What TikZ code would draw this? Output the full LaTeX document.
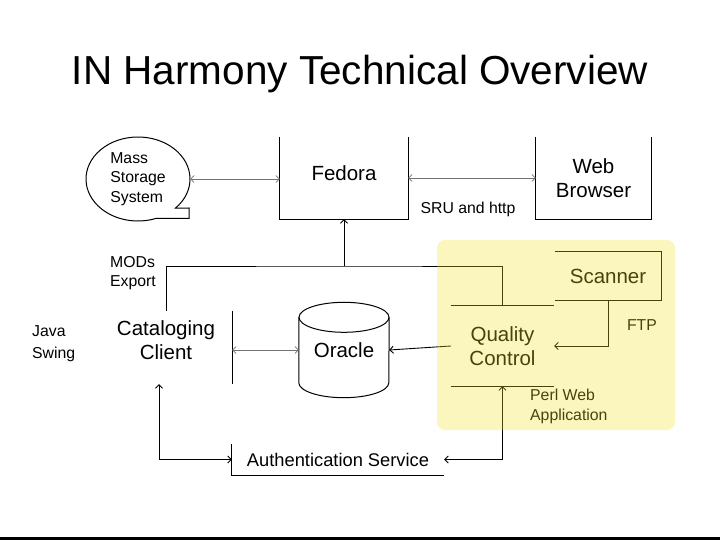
\documentclass[tikz,border=0pt]{standalone}
\usepackage{fontspec}
\setmainfont{Liberation Sans}
\usepackage{xcolor}
\usetikzlibrary{shapes.geometric, arrows.meta}

\definecolor{hlyellow}{RGB}{238,225,38}

\begin{document}
\begin{tikzpicture}[x=1pt, y=-1pt,
        big/.style={font=\fontsize{20.5}{24}\selectfont, align=center, inner sep=0},
        small/.style={font=\fontsize{15.8}{19.5}\selectfont, align=left, inner sep=0},
        line/.style={line width=1pt},
        arrow/.style={->, >={Straight Barb[length=3.5pt, width=7pt]}, line width=0.9pt},
        darrow/.style={<->, >={Straight Barb[length=3.5pt, width=7pt]}, line width=0.6pt, draw=black!55}
    ]
    \useasboundingbox (0,0) rectangle (720,540);

    % Title
    \node[font=\fontsize{40.5}{44}\selectfont] (title) at (360,74) {IN Harmony Technical Overview};

    % Top row
    \node[small, ellipse, minimum width=104pt, minimum height=84pt] (mss) at (138,179) {Mass\\Storage\\System};
    \node[big, minimum width=128pt, minimum height=82pt, text depth=10pt] (fedora) at (344,178) {Fedora};
    \node[big, minimum width=115pt, minimum height=82pt] (web) at (593.5,178) {Web\\Browser};
    \node[small] (sru) at (468,209) {SRU and http};

    % Middle row
    \node[big, minimum width=132pt, minimum height=73pt, text depth=14pt] (cat) at (166,347.5) {Cataloging\\Client};
    \node[big, minimum width=90pt, minimum height=95pt] (oracle) at (344,350) {Oracle};
    \node[big, minimum width=103pt, minimum height=80pt] (qc) at (502.5,346) {Quality\\Control};
    \node[big, minimum width=106pt, minimum height=48pt] (scan) at (608,276) {Scanner};
    \coordinate (mods) at (344,266);

    % Labels
    \node[small, anchor=north west] (modslabel) at (110,256) {MODs\\Export};
    \node[small, anchor=north west, font=\fontsize{15.8}{22}\selectfont] (java) at (32,325) {Java\\Swing};
    \node[small] (ftp) at (642,325) {FTP};
    \node[small, anchor=north west] (perl) at (530,389) {Perl Web\\Application};

    % Bottom row
    \node[font=\fontsize{18.3}{20}\selectfont, minimum width=212pt, minimum height=31pt, inner sep=0] (auth) at (338,459.5) {Authentication Service};

    % Box edges
    \draw[line, shift={(mss.center)}] (44:52 and 42) arc[start angle=44, end angle=-290, x radius=52, y radius=42] -| (51,29) -- cycle;
    \draw[line] (fedora.north west) |- (fedora.south east) -- (fedora.north east);
    \draw[line] (web.north west) |- (web.south east) -- (web.north east);
    \draw[line] (cat.north east) -- (cat.south east);
    \draw[line] ([yshift=-15pt]oracle.north west) -- ([yshift=15pt]oracle.south west)
        arc[start angle=180, end angle=0, x radius=45, y radius=15] -- ([yshift=-15pt]oracle.north east);
    \draw[line] ([yshift=-15pt]oracle.north) ellipse[x radius=45, y radius=15];
    \draw[line] (qc.north west) -- (qc.north east);
    \draw[line] (qc.south west) -- (qc.south east);
    \draw[line] (scan.north west) -- (scan.north east) |- (scan.south west);
    \draw[line] (auth.north west) |- (auth.south east);

    % Arrows
    \draw[darrow] (mss.east) -- (mss.east -| fedora.west);
    \draw[darrow] (fedora.east) -- (web.west);
    \draw[line] (cat.north) |- (mods) -| (qc.north);
    \draw[arrow] (mods) -- (fedora.south);
    \draw[darrow] (oracle.west -| cat.east) -- (oracle.west);
    \draw[arrow] (qc.west) -- (oracle.east);
    \draw[arrow] (scan.south) |- (qc.east);
    \draw[arrow, <->] ([xshift=-7pt]cat.south) |- (auth.west);
    \draw[arrow, <->] (qc.south) |- (auth.east);

    % Highlight over the web application
    \fill[hlyellow, fill opacity=0.3, rounded corners=8pt] (437,240) rectangle (675,430);

    % Slide edge
    \draw[line width=2.5pt] (0,538.5) -- (720,538.5);

\end{tikzpicture}
\end{document}
